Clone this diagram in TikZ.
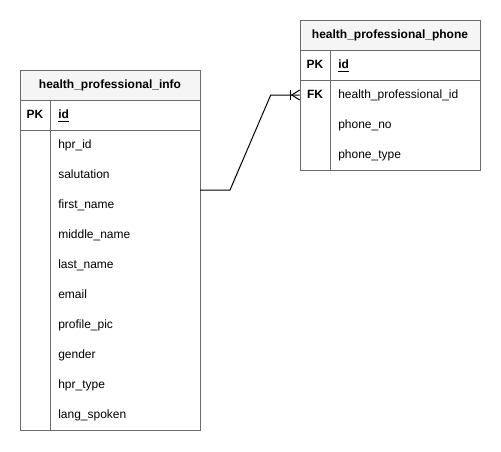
\documentclass[tikz,border=0pt]{standalone}
\usepackage{fontspec}
\setmainfont{Liberation Sans}
\usetikzlibrary{positioning}
\definecolor{EdgeGray}{HTML}{6B6B6B}
\definecolor{HeadFill}{HTML}{F5F5F5}
\tikzset{
  tablehead/.style={draw=EdgeGray, line width=0.75pt, fill=HeadFill, minimum width=135pt, minimum height=22.5pt, inner sep=0pt, font=\fontsize{9}{11}\selectfont\bfseries},
  keycell/.style={minimum width=22.5pt, minimum height=22.5pt, inner sep=0pt, text height=6.5pt, text depth=0.6pt, font=\fontsize{9}{11}\selectfont\bfseries},
  fieldcell/.style={anchor=west, inner sep=0pt, text height=6.5pt, text depth=0.6pt, font=\fontsize{9}{11}\selectfont},
  tableline/.style={draw=EdgeGray, line width=0.75pt},
  relline/.style={draw=black, line width=0.75pt}
}

\begin{document}
\begin{tikzpicture}[x=0.75pt, y=-0.75pt]
\useasboundingbox (0,0) rectangle (501,451);
% health_professional_info
\draw[tableline] (20,100) rectangle (200,430);
\draw[tableline] (20,130) -- (200,130);
\draw[tableline] (50,100) -- (50,430);
\node[tablehead] (info) at (110,85) {health\_professional\_info};
\node[keycell] (info-pk) at (35,115) {PK};
\node[fieldcell] (info-id) at (58,115) {\textbf{\underline{id}}};
\foreach \name [count=\i] in {hpr\_id, salutation, first\_name, middle\_name, last\_name,
    email, profile\_pic, gender, hpr\_type, lang\_spoken}
  \node[fieldcell] (info-\i) at (58,115+30*\i) {\name};

% health_professional_phone
\draw[tableline] (300,50) rectangle (480,170);
\draw[tableline] (300,80) -- (480,80);
\draw[tableline] (330,50) -- (330,170);
\node[tablehead] (phone) at (390,35) {health\_professional\_phone};
\node[keycell] (phone-pk) at (315,65) {PK};
\node[keycell] (phone-fk) at (315,95) {FK};
\node[fieldcell] (phone-id) at (338,65) {\textbf{\underline{id}}};
\node[fieldcell] (phone-hp) at (338,95) {health\_professional\_id};
\node[fieldcell] (phone-no) at (338,125) {phone\_no};
\node[fieldcell] (phone-type) at (338,155) {phone\_type};

% relation
\coordinate (info-out) at (200,190);
\draw[relline] (info-out) -- ++(30,0) -- ([xshift=-21.75pt]phone-fk.west) -- (phone-fk.west);
\draw[relline] (phone-fk.west) ++(0,-5) -- ++(-8,5) -- ++(8,5);
\draw[relline] (phone-fk.west) ++(-9,-5) -- ++(0,10);
\end{tikzpicture}
\end{document}
